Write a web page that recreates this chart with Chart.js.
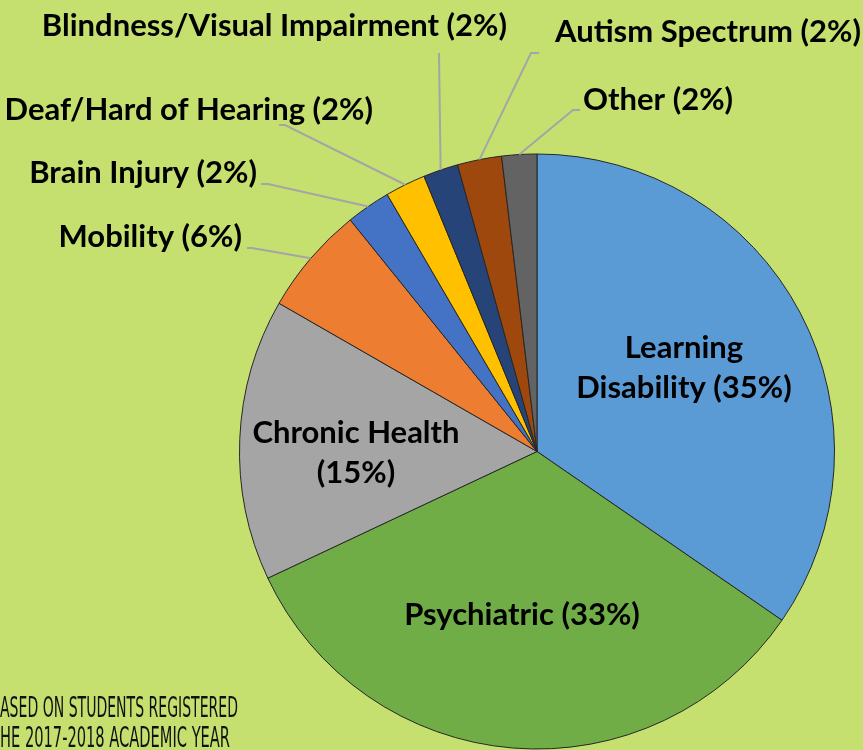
<!DOCTYPE html>
<html>
<head>
<meta charset="utf-8">
<script src="https://cdn.jsdelivr.net/npm/chart.js@4/dist/chart.umd.min.js"></script>
<style>
  html, body { margin: 0; padding: 0; background: #c5e06f; overflow: hidden; }
  #wrap { width: 863px; height: 750px; position: relative; }
</style>
</head>
<body>
<div id="wrap"><canvas id="pieChart" width="863" height="750"></canvas></div>
<script>
// categories, clockwise from 12 o'clock
const categories = [
  "Learning Disability",
  "Psychiatric",
  "Chronic Health",
  "Mobility",
  "Brain Injury",
  "Deaf/Hard of Hearing",
  "Blindness/Visual Impairment",
  "Autism Spectrum",
  "Other",
];
// slice sizes (percent)
const shares = [34.6, 33.4, 15.3, 5.9, 2.4, 2.2, 1.9, 2.4, 1.9];
// percentages as printed on the labels
const percentLabels = ["35%", "33%", "15%", "6%", "2%", "2%", "2%", "2%", "2%"];

const sliceColors = [
  "#5b9bd5", "#70ad47", "#a5a5a5", "#ed7d31", "#4472c4",
  "#ffc000", "#264478", "#9e480e", "#636363",
];

const noteLines = ["ASED ON STUDENTS REGISTERED", "HE 2017-2018 ACADEMIC YEAR"];

// label placement (x, baseline y); inside labels are centred,
// outside ones get a leader line from (lx, ly) via an elbow to the rim
const labelLayout = [
  { inside: true, x: 684, y: 358, breakAfter: 1 },
  { inside: true, x: 522, y: 625, breakAfter: 0 },
  { inside: true, x: 356, y: 443, breakAfter: 2 },
  { x: 242, y: 247, align: "right", lx: 247, ly: 248, ex: 252, ey: 248 },
  { x: 257, y: 183, align: "right", lx: 261, ly: 184, ex: 268, ey: 184 },
  { x: 373, y: 120, align: "right", lx: 279, ly: 125, ex: 285, ey: 125 },
  { x: 507, y: 36, align: "right", lx: 439, ly: 53, ex: 439, ey: 53 },
  { x: 555, y: 42, align: "left", lx: 539, ly: 53, ex: 531, ey: 53 },
  { x: 583, y: 110, align: "left", lx: 580, ly: 110, ex: 573, ey: 110 },
];

const LABEL_FONT = "bold 31px Lato, 'Open Sans', sans-serif";
const LINE_GAP = 40;

const sliceLabels = {
  id: "sliceLabels",
  afterDatasetsDraw(chart) {
    const ctx = chart.ctx;
    const arcs = chart.getDatasetMeta(0).data;
    ctx.save();
    arcs.forEach((arc, i) => {
      const lay = labelLayout[i];
      const p = arc.getProps(["x", "y", "startAngle", "endAngle", "outerRadius"], true);
      const mid = (p.startAngle + p.endAngle) / 2;
      const text = categories[i] + " (" + percentLabels[i] + ")";
      ctx.font = LABEL_FONT;
      ctx.fillStyle = "#000";
      ctx.textBaseline = "alphabetic";
      if (lay.inside) {
        ctx.textAlign = "center";
        let lines = [text];
        if (lay.breakAfter) {
          const words = text.split(" ");
          lines = [words.slice(0, lay.breakAfter).join(" "), words.slice(lay.breakAfter).join(" ")];
        }
        lines.forEach((ln, k) => ctx.fillText(ln, lay.x, lay.y + k * LINE_GAP));
      } else {
        const rx = p.x + Math.cos(mid) * p.outerRadius;
        const ry = p.y + Math.sin(mid) * p.outerRadius;
        ctx.strokeStyle = "#a5a5a5";
        ctx.lineWidth = 2;
        ctx.beginPath();
        ctx.moveTo(lay.lx, lay.ly);
        ctx.lineTo(lay.ex, lay.ey);
        ctx.lineTo(rx, ry);
        ctx.stroke();
        ctx.textAlign = lay.align;
        ctx.fillText(text, lay.x, lay.y);
      }
    });
    // footnote, clipped at the left edge like the source
    ctx.font = "29px 'Liberation Sans Narrow', 'DejaVu Sans Condensed', sans-serif";
    ctx.textAlign = "left";
    ctx.fillStyle = "#111";
    ctx.fillText(noteLines[0], 0, 717, 238);
    ctx.fillText(noteLines[1], 0, 747, 230);
    ctx.restore();
  },
};

new Chart(document.getElementById("pieChart"), {
  type: "pie",
  data: {
    labels: categories,
    datasets: [
      {
        data: shares,
        backgroundColor: sliceColors,
        borderColor: "#262626",
        borderWidth: 1,
      },
    ],
  },
  options: {
    responsive: false,
    animation: false,
    layout: {
      padding: { left: 239, right: 28, top: 153, bottom: 0 },
    },
    plugins: {
      legend: { display: false },
      tooltip: { enabled: false },
    },
  },
  plugins: [sliceLabels],
});
</script>
</body>
</html>
